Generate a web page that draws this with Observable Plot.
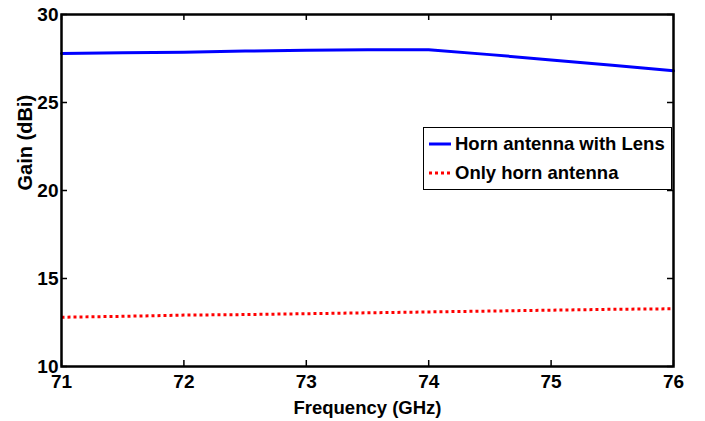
<!DOCTYPE html>
<html>
<head>
<meta charset="utf-8">
<script src="https://cdn.jsdelivr.net/npm/d3@7"></script>
<script src="https://cdn.jsdelivr.net/npm/@observablehq/plot@0.6"></script>
<style>
  html, body { margin: 0; padding: 0; background: #fff; }
  #wrap { position: relative; width: 705px; height: 421px; font-family: "Liberation Sans", Arial, sans-serif; }
  #legend { position: absolute; left: 423px; top: 127px; width: 249px; height: 63px; background: #fff; border: 1.5px solid #000; box-sizing: border-box; font-weight: bold; font-size: 18.5px; }
  .row { position: absolute; left: 5px; display: flex; align-items: center; white-space: nowrap; }
  .row svg { margin-right: 4px; }
</style>
</head>
<body>
<div id="wrap"></div>
<script>
const freq = [71, 71.5, 72, 72.5, 73, 73.5, 74, 74.5, 75, 75.5, 76];
const lensGain = [27.78, 27.82, 27.86, 27.92, 27.97, 28.0, 28.0, 27.72, 27.42, 27.12, 26.8];
const hornGain = [12.8, 12.85, 12.92, 12.95, 13.0, 13.05, 13.1, 13.15, 13.2, 13.25, 13.28];
const xTicks = [71, 72, 73, 74, 75, 76];
const yTicks = [10, 15, 20, 25, 30];
const xTitle = "Frequency (GHz)";
const yTitle = "Gain (dBi)";
const seriesNames = ["Horn antenna with Lens", "Only horn antenna"];

const lensData = freq.map((f, i) => ({f, g: lensGain[i]}));
const hornData = freq.map((f, i) => ({f, g: hornGain[i]}));

const W = 705, H = 421, mL = 61, mT = 14, mR = 32, mB = 55;
const fw = W - mL - mR, fh = H - mT - mB;

const chart = Plot.plot({
  width: W, height: H,
  marginLeft: mL, marginTop: mT, marginRight: mR, marginBottom: mB,
  style: {fontFamily: "Liberation Sans, Arial, sans-serif", fontWeight: "bold", fontSize: "18px", color: "#000", background: "#fff"},
  x: {domain: [71, 76]},
  y: {domain: [10, 30]},
  marks: [
    Plot.axisX(xTicks, {tickSize: 0, tickPadding: 8, tickFormat: "d", fontSize: 19, fontWeight: "bold", label: null}),
    Plot.axisY(yTicks, {tickSize: 0, tickPadding: 3, tickFormat: "d", fontSize: 19, fontWeight: "bold", label: null}),
    Plot.text([xTitle], {text: d => d, frameAnchor: "bottom", dy: 42, fontSize: 18.5, fontWeight: "bold", lineAnchor: "middle"}),
    Plot.text([yTitle], {text: d => d, frameAnchor: "left", dx: -36, rotate: -90, fontSize: 20, fontWeight: "bold", lineAnchor: "middle"}),
    Plot.tickX(xTicks, {x: d => d, insetTop: fh - 6, strokeWidth: 1.5}),
    Plot.tickX(xTicks, {x: d => d, insetBottom: fh - 6, strokeWidth: 1.5}),
    Plot.tickY(yTicks, {y: d => d, insetRight: fw - 6, strokeWidth: 1.5}),
    Plot.tickY(yTicks, {y: d => d, insetLeft: fw - 6, strokeWidth: 1.5}),
    Plot.line(lensData, {x: "f", y: "g", stroke: "#0000ff", strokeWidth: 3}),
    Plot.line(hornData, {x: "f", y: "g", stroke: "#ff0000", strokeWidth: 3, strokeDasharray: "3,3", strokeLinecap: "butt"}),
    Plot.frame({stroke: "#000", strokeWidth: 2.5})
  ]
});
const wrap = document.getElementById("wrap");
wrap.appendChild(chart);

const legend = document.createElement("div");
legend.id = "legend";
legend.innerHTML = `
  <div class="row" style="top:5px"><svg width="22" height="6"><line x1="0" y1="3" x2="22" y2="3" stroke="#0000ff" stroke-width="3"/></svg>${seriesNames[0]}</div>
  <div class="row" style="top:34px"><svg width="22" height="6"><line x1="0" y1="3" x2="22" y2="3" stroke="#ff0000" stroke-width="3" stroke-dasharray="3,3"/></svg>${seriesNames[1]}</div>`;
wrap.appendChild(legend);
</script>
</body>
</html>
